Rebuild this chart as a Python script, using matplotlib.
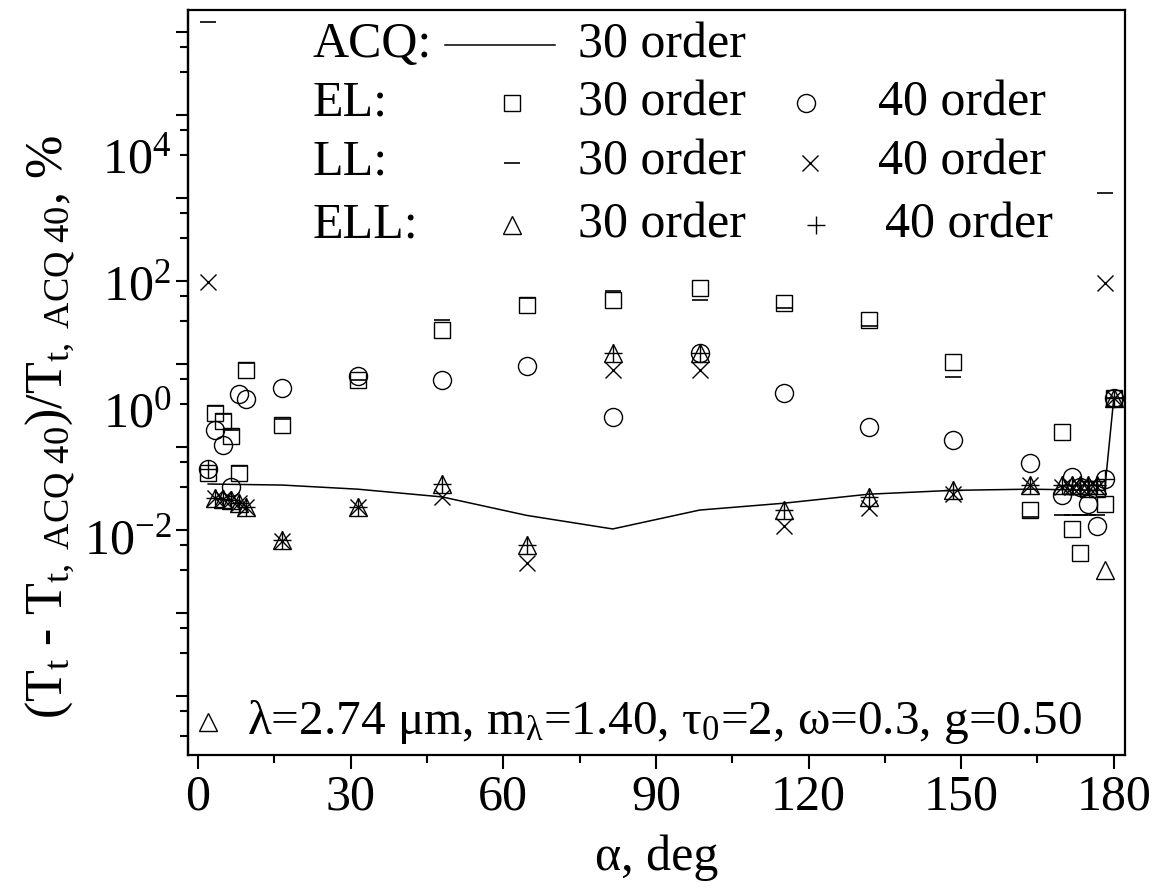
import matplotlib
matplotlib.use("Agg")
import matplotlib.pyplot as plt
from matplotlib import ticker
import numpy as np

plt.rcParams['font.family'] = ['Liberation Serif', 'DejaVu Serif']
plt.rcParams['mathtext.fontset'] = 'custom'
plt.rcParams['mathtext.rm'] = 'Liberation Serif'
plt.rcParams['mathtext.it'] = 'Liberation Serif:italic'

# angles (deg)
alpha = [2.0, 3.3, 4.9, 6.5, 8.0, 9.4, 16.5, 31.4, 48.0, 64.6, 81.5, 98.6, 115.1,
         131.8, 148.3, 163.5, 169.9, 171.7, 173.3, 174.9, 176.6, 178.2, 180.0]

# relative errors, %
el30 = [0.099, 0.866, 0.648, 0.377, 0.099, 4.13, 0.559, 2.85, 17.5, 43.0, 52.0, 80.0, 46.3,
        25.3, 5.52, 0.0256, 0.436, 0.0129, 0.00542, 0.0546, 0.0546, 0.032, 1.49]
el40 = [0.113, 0.466, 0.272, 0.0592, 1.72, 1.44, 2.12, 3.33, 2.85, 4.78, 0.749, 7.64, 1.785,
        0.52, 0.324, 0.141, 0.0442, 0.0849, 0.0592, 0.032, 0.0144, 0.0786, 1.49]
ll30 = [1.24e6, 1.106, 0.835, 0.466, 0.1265, 5.25, 0.707, 2.85, 25.3, 55.5, 71.2, 52.0, 38.7,
        20.2, 3.21, 0.0202, 0.0215, 0.0215, 0.0215, 0.0215, 0.0215, 2525, 1.49]
ll40 = [98.3, 0.0397, 0.0384, 0.0369, 0.033, 0.0288, 0.00839, 0.0288, 0.0412, 0.00375, 4.13, 4.13, 0.0144,
        0.0276, 0.046, 0.0639, 0.0592, 0.0592, 0.0592, 0.0592, 0.0592, 97.0, 1.49]
ell30 = [1.19e-5, 0.0397, 0.0384, 0.0369, 0.033, 0.0288, 0.00869, 0.0288, 0.0658, 0.00722, 7.64, 7.64, 0.0256,
         0.0412, 0.0523, 0.0639, 0.0639, 0.0639, 0.0639, 0.0639, 0.0639, 0.00292, 1.49]
ell40 = [0.113, 0.0397, 0.0384, 0.0369, 0.033, 0.0288, 0.00869, 0.0288, 0.0658, 0.00722, 7.64, 7.64, 0.0256,
         0.0412, 0.0523, 0.0639, 0.0639, 0.0639, 0.0639, 0.0639, 0.0639, 0.0786, 1.49]

acq_alpha = [2.0, 16.5, 31.4, 48.0, 64.6, 81.5, 98.6, 115.1, 131.8, 148.3, 163.5, 178.2, 180.0]
acq30 = [0.0658, 0.0634, 0.0546, 0.0412, 0.0211, 0.0129, 0.0256, 0.0328, 0.0455, 0.0523, 0.0546, 0.0523, 1.49]

fig = plt.figure(figsize=(11.59, 8.88), dpi=100)
ax = fig.add_axes([188/1159, 1-755/888, 937/1159, 745/888])

ax.plot(acq_alpha, acq30, '-', color='k', lw=1.1)
mk = dict(linestyle='none', mfc='none', mec='k', color='k')
ax.plot(alpha, el30, marker='s', ms=11, mew=1, **mk)
ax.plot(alpha, el40, marker='o', ms=13, mew=1, **mk)
ax.plot(alpha, ll30, marker='_', ms=12, mew=1.2, **mk)
ax.plot(alpha, ll40, marker='x', ms=12, mew=1, **mk)
ax.plot(alpha, ell30, marker='^', ms=13, mew=1, **mk)
ax.plot(alpha, ell40, marker='+', ms=13, mew=1, **mk)

ax.set_yscale('log')
ax.set_xlim(-1.97, 182.2)
ax.set_ylim(10**-5.449, 10**6.283)

ax.xaxis.set_major_locator(ticker.MultipleLocator(30))
ax.xaxis.set_minor_locator(ticker.MultipleLocator(15))

# labelled positions (no tick line) and the drawn tick marks
ax.yaxis.set_major_locator(ticker.FixedLocator([1e-2, 1e0, 1e2, 1e4]))
ax.yaxis.set_major_formatter(ticker.FuncFormatter(
    lambda v, p: r'$\mathrm{10^{%d}}$' % int(round(np.log10(v)))))
nn = np.arange(-5, 8)
long_t = 10.0**(1.3071*nn - 0.5984)
short_t = [10.0**(1.3071*(n + np.log10(f)) - 0.5984) for n in nn for f in (1/3, 2/3)]
ax.yaxis.set_minor_locator(ticker.FixedLocator(long_t))
ax.yaxis.set_minor_formatter(ticker.NullFormatter())

ax.tick_params(axis='y', which='major', length=0, labelsize=36, pad=12)
ax.tick_params(axis='y', which='minor', direction='out', length=9, width=1.5)
ax.tick_params(axis='x', which='major', direction='out', length=10, width=1.5, labelsize=36, pad=4)
ax.tick_params(axis='x', which='minor', direction='out', length=6, width=1.5)

sec = ax.secondary_yaxis('left')
sec.yaxis.set_major_locator(ticker.FixedLocator(short_t))
sec.yaxis.set_major_formatter(ticker.NullFormatter())
sec.yaxis.set_minor_locator(ticker.NullLocator())
sec.tick_params(axis='y', direction='out', length=6, width=1.5)
sec.spines['left'].set_linewidth(1.6)

for s in ax.spines.values():
    s.set_linewidth(1.6)

ax.set_xlabel('α, deg', fontsize=36, labelpad=10)
ax.set_ylabel(r'(T$_\mathrm{t}$ - T$_\mathrm{t,\ ACQ\ 40}$)/T$_\mathrm{t,\ ACQ\ 40}$, %', fontsize=37.5)
ax.yaxis.set_label_coords(-0.120, 0.44)

ax.text(0.509, 0.044, r'λ=2.74 μm, m$_\mathrm{λ}$=1.40, τ$_\mathrm{0}$=2, ω=0.3, g=0.50',
        transform=ax.transAxes, fontsize=35.5, ha='center', va='center')

# legend drawn by hand
tr = ax.transAxes
rows = [0.953, 0.875, 0.795, 0.711]
names = ['ACQ:', 'EL:', 'LL:', 'ELL:']
for yy, nm in zip(rows, names):
    ax.text(0.133, yy, nm, transform=tr, fontsize=36, ha='left', va='center')
    ax.text(0.416, yy, '30 order', transform=tr, fontsize=36, ha='left', va='center')
for yy, xx in zip(rows[1:], [0.736, 0.736, 0.744]):
    ax.text(xx, yy, '40 order', transform=tr, fontsize=36, ha='left', va='center')
ax.plot([0.274, 0.392], [rows[0], rows[0]], '-', color='k', lw=1.1, transform=tr)
ax.plot([0.346], [rows[1]], marker='s', ms=11, mew=1, transform=tr, **mk)
ax.plot([0.660], [rows[1]], marker='o', ms=13, mew=1, transform=tr, **mk)
ax.plot([0.346], [rows[2]], marker='_', ms=12, mew=1.2, transform=tr, **mk)
ax.plot([0.664], [rows[2]], marker='x', ms=12, mew=1, transform=tr, **mk)
ax.plot([0.346], [rows[3]], marker='^', ms=13, mew=1, transform=tr, **mk)
ax.plot([0.670], [rows[3]], marker='+', ms=13, mew=1, transform=tr, **mk)

fig.savefig('out.png', dpi=100)
